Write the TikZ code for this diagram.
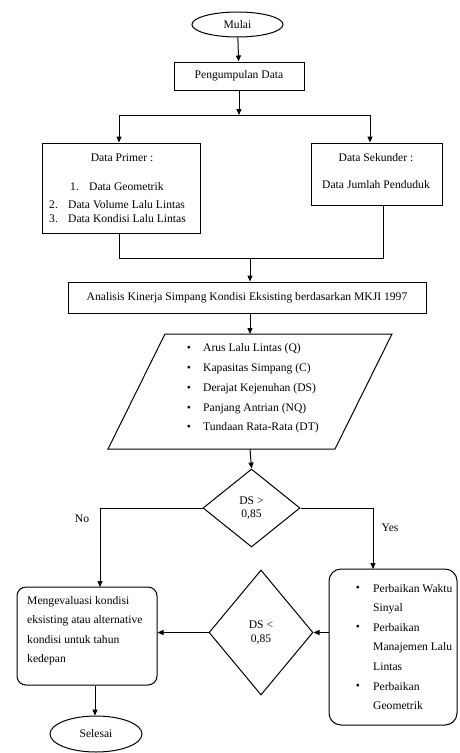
\documentclass[tikz,border=0pt]{standalone}
\usepackage{fontspec}
\setmainfont{Liberation Serif}
\usetikzlibrary{shapes.geometric,arrows.meta}
\begin{document}
\begin{tikzpicture}[x=1pt,y=-1pt,
  font=\fontsize{11.6}{13.5}\selectfont,
  line/.style={draw,line width=1pt},
  arr/.style={line,-{Triangle[length=6pt,width=5pt]}},
  box/.style={draw,line width=1pt,inner sep=0pt},
  txt/.style={inner sep=0pt},
  lft/.style={inner sep=0pt,anchor=west}]
\useasboundingbox (0,0) rectangle (459,753);
% nodes
\node[box,ellipse,minimum width=91pt,minimum height=25pt] (mulai) at (237.5,24.5) {Mulai};
\node[box,minimum width=130pt,minimum height=28pt] (pd) at (239,76) {Pengumpulan Data};
\node[box,minimum width=158pt,minimum height=90pt] (primer) at (121,188) {};
\node[box,minimum width=131pt,minimum height=62pt] (sek) at (376.5,174) {};
\node[txt] (pt) at (122,158) {Data Primer :};
\node[lft] (p1n) at (70,187) {1.};
\node[lft] (p1) at (89,187) {Data Geometrik};
\node[lft] (p2n) at (49,205) {2.};
\node[lft] (p2) at (68,205) {Data Volume Lalu Lintas};
\node[lft] (p3n) at (49,219) {3.};
\node[lft] (p3) at (68,219) {Data Kondisi Lalu Lintas};
\node[txt] (st) at (376,158) {Data Sekunder :};
\node[txt] (s1) at (376,185) {Data Jumlah Penduduk};
\node[box,minimum width=358pt,minimum height=31pt] (an) at (247,297.5) {Analisis Kinerja Simpang Kondisi Eksisting berdasarkan MKJI 1997};
% parallelogram
\coordinate (paTL) at (165,334);
\coordinate (paTR) at (392,334);
\coordinate (paBR) at (335,449);
\coordinate (paBL) at (108,449);
\draw[line width=1pt] (paTL) -- (paTR) -- (paBR) -- (paBL) -- cycle;
\coordinate (paTop) at (250,334);
\coordinate (paBot) at (250,449);
\foreach \i/\t in {0/Arus Lalu Lintas (Q),1/Kapasitas Simpang (C),2/Derajat Kejenuhan (DS),3/Panjang Antrian (NQ),4/Tundaan Rata-Rata (DT)}{
  \node[txt] (pb\i) at (189,349+19.8*\i) {•};
  \node[lft] (pl\i) at (203,349+19.8*\i) {\t};
}
\node[box,diamond,minimum width=97pt,minimum height=78pt,align=center] (d1) at (251.5,508) {DS >\\0,85};
\node[box,diamond,minimum width=104pt,minimum height=125pt,align=center] (d2) at (261,632.5) {DS <\\0,85};
\node[box,rounded corners=9pt,minimum width=140pt,minimum height=98pt] (lb) at (87,636) {};
\node[txt,anchor=north west,align=left,font=\fontsize{11.6}{19.5}\selectfont] (lbt) at (27,596) {Mengevaluasi kondisi\\eksisting atau alternative\\kondisi untuk tahun\\kedepan};
\node[box,rounded corners=12pt,minimum width=128pt,minimum height=156pt] (rb) at (393,647) {};
\node[txt] (rb1) at (358,589) {•};
\node[lft] (rt1) at (373,589) {Perbaikan Waktu};
\node[lft] (rt1b) at (373,608.5) {Sinyal};
\node[txt] (rb2) at (358,628) {•};
\node[lft] (rt2) at (373,628) {Perbaikan};
\node[lft] (rt2b) at (373,647.5) {Manajemen Lalu};
\node[lft] (rt2c) at (373,667) {Lintas};
\node[txt] (rb3) at (358,686.5) {•};
\node[lft] (rt3) at (373,686.5) {Perbaikan};
\node[lft] (rt3b) at (373,706) {Geometrik};
\node[box,ellipse,minimum width=92pt,minimum height=36pt] (sel) at (96,734) {Selesai};
\node[txt] (no) at (82,519) {No};
\node[txt] (yes) at (390,528) {Yes};
% connectors
\coordinate (splitL) at (119,115);
\coordinate (splitR) at (370,115);
\coordinate (joinY) at (250,258);
\draw[arr] (mulai) -- (pd);
\draw[arr] (pd) -- (pd.south |- splitL);
\draw[line] (splitL) -- (splitR);
\draw[arr] (splitL) -- (splitL |- primer.north);
\draw[arr] (splitR) -- (splitR |- sek.north);
\draw[line] (primer.south -| splitL) -- (splitL |- joinY) -- (383,258) -- (383,205);
\draw[arr] (joinY) -- (joinY |- an.north);
\draw[arr] (an.south -| paTop) -- (paTop);
\draw[arr] (paBot) -- (d1.north);
\coordinate (noEnd) at (100,587);
\draw[arr] (d1.west) -| (noEnd);
\coordinate (yesEnd) at (373,569);
\draw[arr] (d1.east) -| (yesEnd);
\draw[arr] (rb.west |- d2.east) -- (d2.east);
\draw[arr] (d2.west) -- (d2.west -| lb.east);
\draw[arr] (lb.south -| 95,0) -- (sel.north -| 95,0);
\end{tikzpicture}
\end{document}
